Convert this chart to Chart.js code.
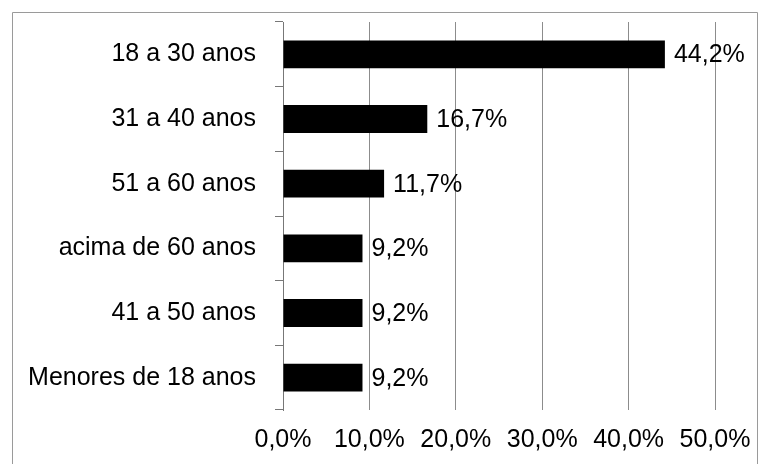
<!DOCTYPE html>
<html>
<head>
<meta charset="utf-8">
<script src="https://cdn.jsdelivr.net/npm/chart.js@4/dist/chart.umd.min.js"></script>
<style>
  html, body { margin: 0; padding: 0; background: #fff; }
  #wrap { width: 759px; height: 464px; position: relative; }
</style>
</head>
<body>
<div id="wrap"><canvas id="myChart" width="759" height="464"></canvas></div>
<script>
// faixas etarias, de cima para baixo
const categories = ['18 a 30 anos', '31 a 40 anos', '51 a 60 anos', 'acima de 60 anos', '41 a 50 anos', 'Menores de 18 anos'];
const percentValues = [44.2, 16.7, 11.7, 9.2, 9.2, 9.2];
const xTicks = [0, 10, 20, 30, 40, 50];

function formatPct(v) {
    return v.toFixed(1).replace('.', ',') + '%';
}

// frame around the whole figure
const framePlugin = {
    id: 'frame',
    beforeDraw(chart) {
        const ctx = chart.ctx;
        ctx.save();
        ctx.strokeStyle = '#9a9a9a';
        ctx.lineWidth = 1;
        ctx.beginPath();
        ctx.moveTo(12.5, 470);
        ctx.lineTo(12.5, 12.5);
        ctx.lineTo(757.5, 12.5);
        ctx.lineTo(757.5, 470);
        ctx.stroke();
        ctx.restore();
    }
};

// value labels right of each bar
const valueLabels = {
    id: 'valueLabels',
    afterDatasetsDraw(chart) {
        const ctx = chart.ctx;
        const meta = chart.getDatasetMeta(0);
        ctx.save();
        ctx.font = '25px "Liberation Sans", Arial, sans-serif';
        ctx.fillStyle = '#000';
        ctx.textAlign = 'left';
        ctx.textBaseline = 'middle';
        meta.data.forEach((bar, i) => {
            ctx.fillText(formatPct(percentValues[i]), bar.x + 9, bar.y + 1);
        });
        ctx.restore();
    }
};

const ctx = document.getElementById('myChart').getContext('2d');
const myChart = new Chart(ctx, {
    type: 'bar',
    data: {
        labels: categories,
        datasets: [{
            data: percentValues,
            backgroundColor: '#000',
            borderWidth: 0,
            barPercentage: 0.43,
            categoryPercentage: 1
        }]
    },
    options: {
        indexAxis: 'y',
        responsive: false,
        animation: false,
        layout: { padding: { top: 22, right: 44, left: 0, bottom: 0 } },
        plugins: { legend: { display: false }, tooltip: { enabled: false } },
        scales: {
            x: {
                min: 0,
                max: 50,
                afterBuildTicks(scale) {
                    scale.ticks = xTicks.map(v => ({ value: v }));
                },
                afterFit(scale) {
                    scale.height = 54;
                    scale.paddingLeft = 0;
                    scale.paddingRight = 0;
                },
                grid: { color: '#8c8c8c', lineWidth: 1, drawTicks: false },
                border: { display: false },
                ticks: {
                    color: '#000',
                    padding: 15,
                    maxRotation: 0,
                    font: { family: '"Liberation Sans", Arial, sans-serif', size: 25 },
                    callback: v => formatPct(v)
                }
            },
            y: {
                afterFit(scale) {
                    scale.width = 283;
                    scale.paddingTop = 0;
                    scale.paddingBottom = 0;
                },
                grid: { drawOnChartArea: false, offset: true, color: '#777', tickLength: 8 },
                border: { display: true, color: '#777' },
                ticks: {
                    color: '#000',
                    padding: 19,
                    font: { family: '"Liberation Sans", Arial, sans-serif', size: 25 }
                }
            }
        }
    },
    plugins: [framePlugin, valueLabels]
});
</script>
</body>
</html>
